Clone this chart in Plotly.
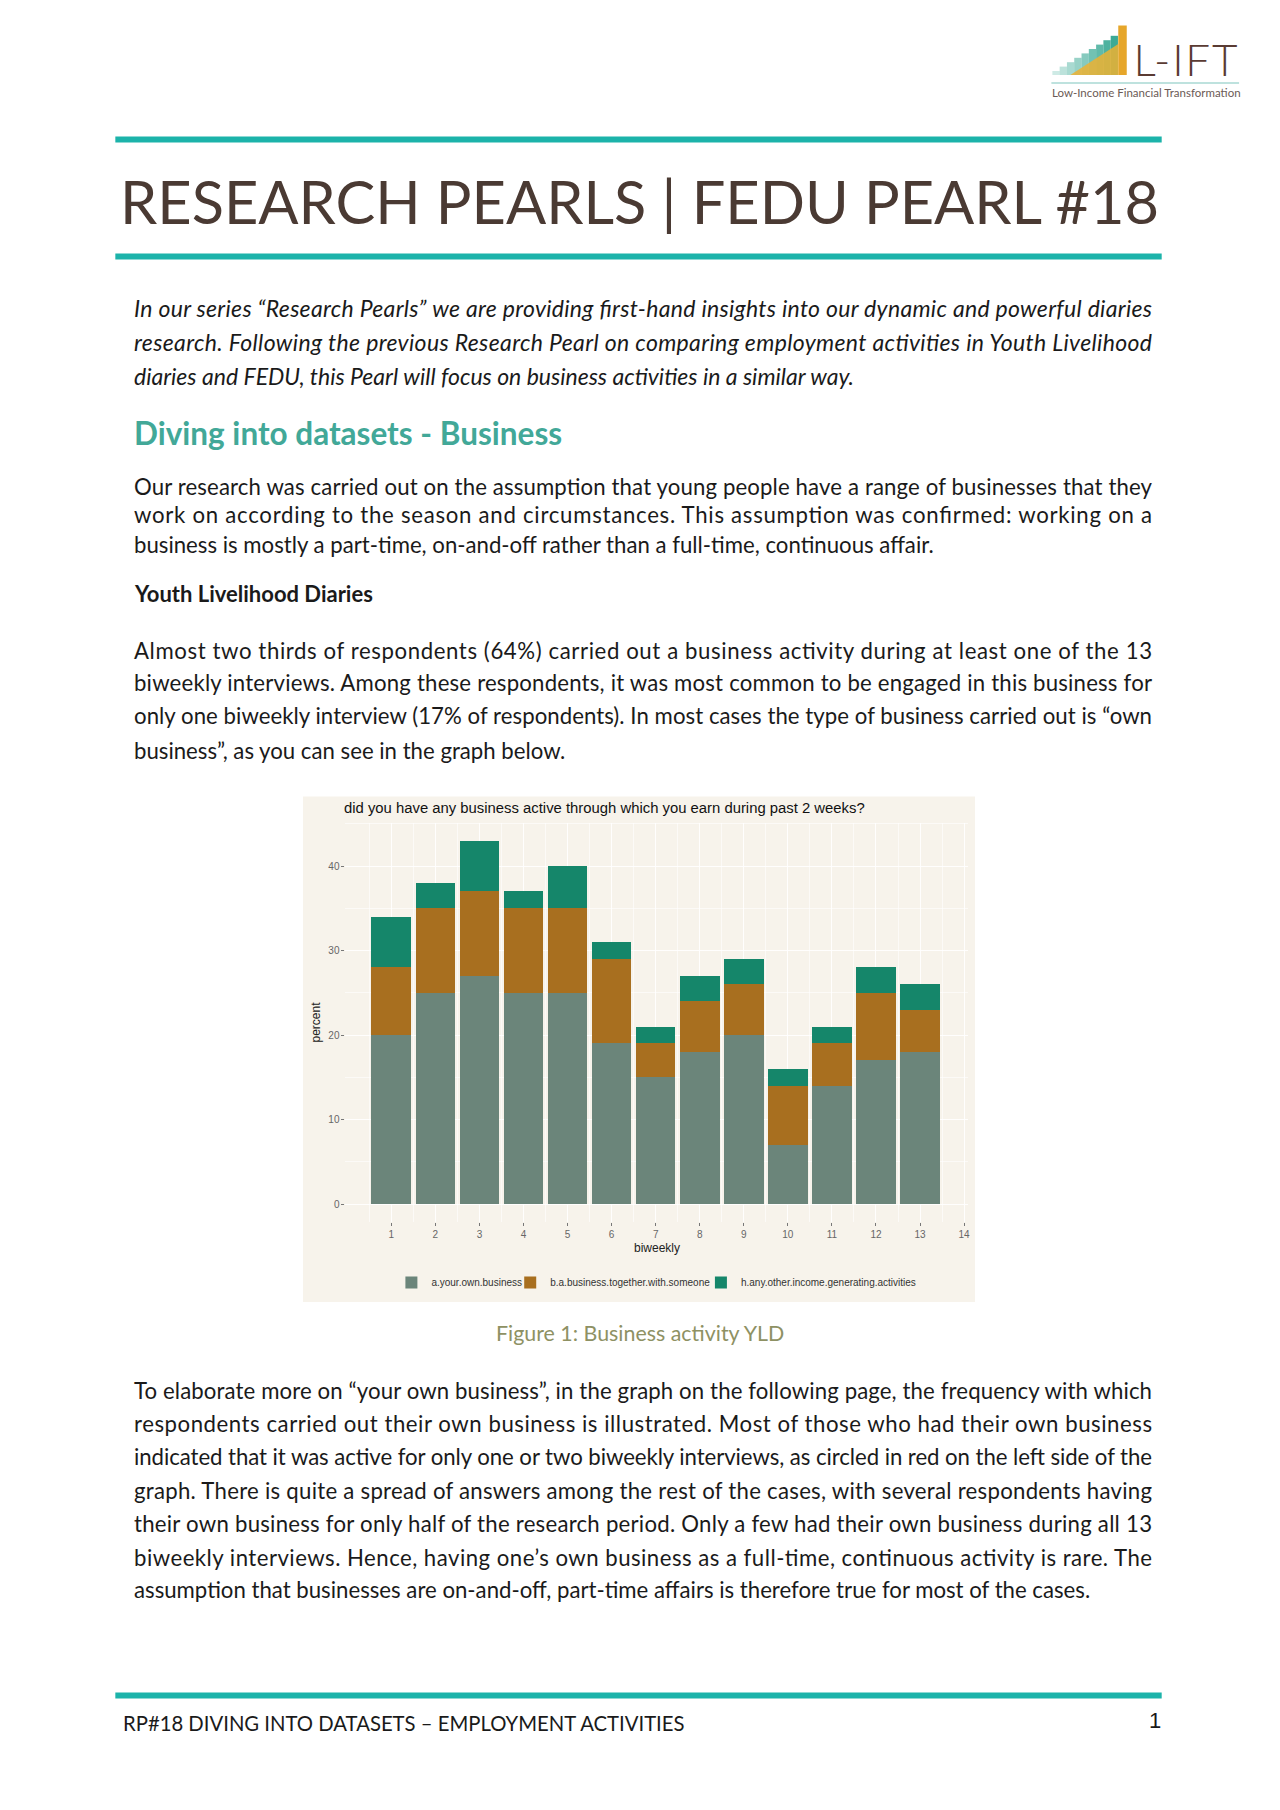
import json
import plotly.graph_objects as go

W, H = 1280, 1810
OFF = 8  # page body margin of the browser

# ---------------- chart data ----------------
biweekly = list(range(1, 14))
own_business = [20, 25, 27, 25, 25, 19, 15, 18, 20, 7, 14, 17, 18]
together_business = [8, 10, 10, 10, 10, 10, 4, 6, 6, 7, 5, 8, 5]
other_income = [6, 3, 6, 2, 5, 2, 2, 3, 3, 2, 2, 3, 3]
series_names = ["a.your.own.business",
                "b.a.business.together.with.someone",
                "h.any.other.income.generating.activities"]
series_colors = ["#6b857a", "#a86f1f", "#15866a"]
x_ticks = list(range(1, 15))
y_ticks = [0, 10, 20, 30, 40]
chart_title = "did you have any business active through which you earn during past 2 weeks?"


def px(x):
    return (x - OFF) / W


def py(y):
    return 1 - (y - OFF) / H


legend_ids = ["legend", "legend2", "legend3"]
fig = go.Figure()
for name, vals, col, lg in zip(series_names, [own_business, together_business, other_income],
                               series_colors, legend_ids):
    fig.add_trace(go.Bar(x=biweekly, y=vals, name=name, width=0.9, legend=lg,
                         marker=dict(color=col, line=dict(width=0))))

CREAM = "#f7f3eb"
BODY = "Lato, 'Noto Sans', sans-serif"
CHART_FONT = "'Liberation Sans', Arial, sans-serif"

shapes = []
shapes.append(dict(type="rect", xref="paper", yref="paper", x0=px(303.5), x1=px(976.5),
                   y0=py(1302), y1=py(796.5), fillcolor=CREAM, line=dict(width=0), layer="below"))
for yy in [139.5, 256.5, 1695.5]:
    shapes.append(dict(type="line", xref="paper", yref="paper", x0=px(115.5), x1=px(1163.5),
                       y0=py(yy), y1=py(yy), line=dict(color="#1cb3aa", width=6)))
# logo stairs
n_steps = 9
for i in range(n_steps):
    x0 = 1054 + i * 7.3
    top = 71 - i * 4.4
    alpha = 0.25 + 0.75 * i / (n_steps - 1)
    shapes.append(dict(type="rect", xref="paper", yref="paper", x0=px(x0), x1=px(x0 + 7.3),
                       y0=py(75), y1=py(top), fillcolor=f"rgba(60,170,150,{alpha:.2f})",
                       line=dict(width=0)))
shapes.append(dict(type="path", xref="paper", yref="paper",
                   path=f"M {px(1072)},{py(75)} L {px(1120)},{py(44)} L {px(1120)},{py(75)} Z",
                   fillcolor="rgba(236,178,50,0.85)", line=dict(width=0)))
shapes.append(dict(type="rect", xref="paper", yref="paper", x0=px(1120), x1=px(1128.5),
                   y0=py(75), y1=py(25.5), fillcolor="#e6a62a", line=dict(width=0)))
shapes.append(dict(type="line", xref="paper", yref="paper", x0=px(1053), x1=px(1241),
                   y0=py(83), y1=py(83), line=dict(color="#a8d9d3", width=1.5)))

ann = []
stretch = {}  # annotation index -> target text length in px


def text(x, y, s, size, color="#1a1a1a", family=BODY, anchor="left", weight=None, style=None,
         angle=0, fit=None):
    f = dict(family=family, size=size, color=color)
    if weight:
        f["weight"] = weight
    if style:
        f["style"] = style
    if fit:
        stretch[len(ann)] = fit
    ann.append(dict(x=px(x), y=py(y), xref="paper", yref="paper", text=s, showarrow=False,
                    xanchor=anchor, yanchor="middle", font=f, textangle=angle,
                    align="left" if anchor == "left" else "center"))


# logo text
text(1187.5, 59, "L-IFT", 44, color="#5a3b33", family="Lato", anchor="center", weight=300, fit=104)
text(1148, 92.5, "Low-Income Financial Transformation", 11.5, color="#6b5a55", family="Lato", anchor="center")

# title
text(640, 201, "RESEARCH PEARLS | FEDU PEARL #18", 59.5, color="#4a3a33", family="Lato", anchor="center")

L = 132
JUST_W = 1150 - L


def paragraph(lines, ys, size, **kw):
    for k, (s, y) in enumerate(zip(lines, ys)):
        text(L, y, s, size, fit=(JUST_W if k < len(lines) - 1 else None), **kw)


intro = ["In our series “Research Pearls” we are providing first-hand insights into our dynamic and powerful diaries",
         "research. Following the previous Research Pearl on comparing employment activities in Youth Livelihood",
         "diaries and FEDU, this Pearl will focus on business activities in a similar way."]
paragraph(intro, [308, 342, 376], 23, style="italic")

text(L, 433, "Diving into datasets - Business", 31.5, color="#42a898", weight="bold")

para2 = ["Our research was carried out on the assumption that young people have a range of businesses that they",
         "work on according to the season and circumstances. This assumption was confirmed: working on a",
         "business is mostly a part-time, on-and-off rather than a full-time, continuous affair."]
paragraph(para2, [486.5, 515, 544], 22.2)

text(L, 593, "Youth Livelihood Diaries", 22, weight="bold")

para3 = ["Almost two thirds of respondents (64%) carried out a business activity during at least one of the 13",
         "biweekly interviews. Among these respondents, it was most common to be engaged in this business for",
         "only one biweekly interview (17% of respondents). In most cases the type of business carried out is “own",
         "business”, as you can see in the graph below."]
paragraph(para3, [650, 682.5, 715.5, 750], 22.2)

text(641, 1333, "Figure 1: Business activity YLD", 21.4, color="#8e9163", anchor="center")

para4 = ["To elaborate more on “your own business”, in the graph on the following page, the frequency with which",
         "respondents carried out their own business is illustrated. Most of those who had their own business",
         "indicated that it was active for only one or two biweekly interviews, as circled in red on the left side of the",
         "graph. There is quite a spread of answers among the rest of the cases, with several respondents having",
         "their own business for only half of the research period. Only a few had their own business during all 13",
         "biweekly interviews. Hence, having one’s own business as a full-time, continuous activity is rare. The",
         "assumption that businesses are on-and-off, part-time affairs is therefore true for most of the cases."]
paragraph(para4, [1390, 1423, 1456, 1490, 1523, 1557, 1589], 22.2)

text(121, 1723, "RP#18 DIVING INTO DATASETS – EMPLOYMENT ACTIVITIES", 20.3)
text(1157, 1720, "1", 22, family=CHART_FONT, anchor="center")

# chart texts
text(343, 808, chart_title, 14.85, color="#111", family=CHART_FONT)
text(316, 1022, "percent", 12, color="#222", family=CHART_FONT, anchor="center", angle=-90)
text(658, 1248, "biweekly", 12, color="#222", family=CHART_FONT, anchor="center")

legend_common = dict(orientation="h", yanchor="middle", y=py(1282.5),
                     font=dict(family=CHART_FONT, size=10, color="#333"),
                     bgcolor="rgba(0,0,0,0)", itemclick=False, itemdoubleclick=False)
legend_x = [392, 511, 702]

fig.update_layout(
    width=W, height=H, margin=dict(l=0, r=0, t=0, b=0),
    paper_bgcolor="white", plot_bgcolor=CREAM,
    barmode="stack", showlegend=True,
    shapes=shapes, annotations=ann,
    xaxis=dict(domain=[px(346), px(970)], range=[-0.04, 14.1], tickmode="array", tickvals=x_ticks,
               ticks="outside", ticklen=3, tickcolor="#777", tickwidth=1,
               tickfont=dict(family=CHART_FONT, size=10, color="#666"),
               showgrid=True, gridcolor="rgba(255,255,255,0.9)", gridwidth=1,
               minor=dict(tickvals=[t - 0.5 for t in x_ticks] + [14.5], showgrid=True,
                          gridcolor="rgba(255,255,255,0.6)", gridwidth=0.5),
               zeroline=False, showline=False, fixedrange=True),
    yaxis=dict(domain=[py(1222), py(822.5)], range=[-2.13, 45.15], tickmode="array", tickvals=y_ticks,
               ticks="outside", ticklen=3, tickcolor="#777", tickwidth=1,
               tickfont=dict(family=CHART_FONT, size=10, color="#666"),
               showgrid=True, gridcolor="rgba(255,255,255,0.9)", gridwidth=1,
               minor=dict(tickvals=[5, 15, 25, 35, 45], showgrid=True,
                          gridcolor="rgba(255,255,255,0.6)", gridwidth=0.5),
               zeroline=False, showline=False, fixedrange=True),
    legend=dict(x=px(legend_x[0]), xanchor="left", **legend_common),
    legend2=dict(x=px(legend_x[1]), xanchor="left", **legend_common),
    legend3=dict(x=px(legend_x[2]), xanchor="left", **legend_common),
)

post = """
var gd = document.getElementById('{plot_id}');
var JI = %s;
function justifyLines(){
  Object.keys(JI).forEach(function(i){
    var t = gd.querySelector('g.annotation[data-index="' + i + '"] text.annotation-text');
    if (t) { t.setAttribute('textLength', JI[i]); t.setAttribute('lengthAdjust', 'spacing'); }
  });
}
justifyLines();
if (gd.on) { gd.on('plotly_afterplot', justifyLines); }
""" % json.dumps({str(k): v for k, v in stretch.items()})

fig.write_html("out.html", post_script=post)
